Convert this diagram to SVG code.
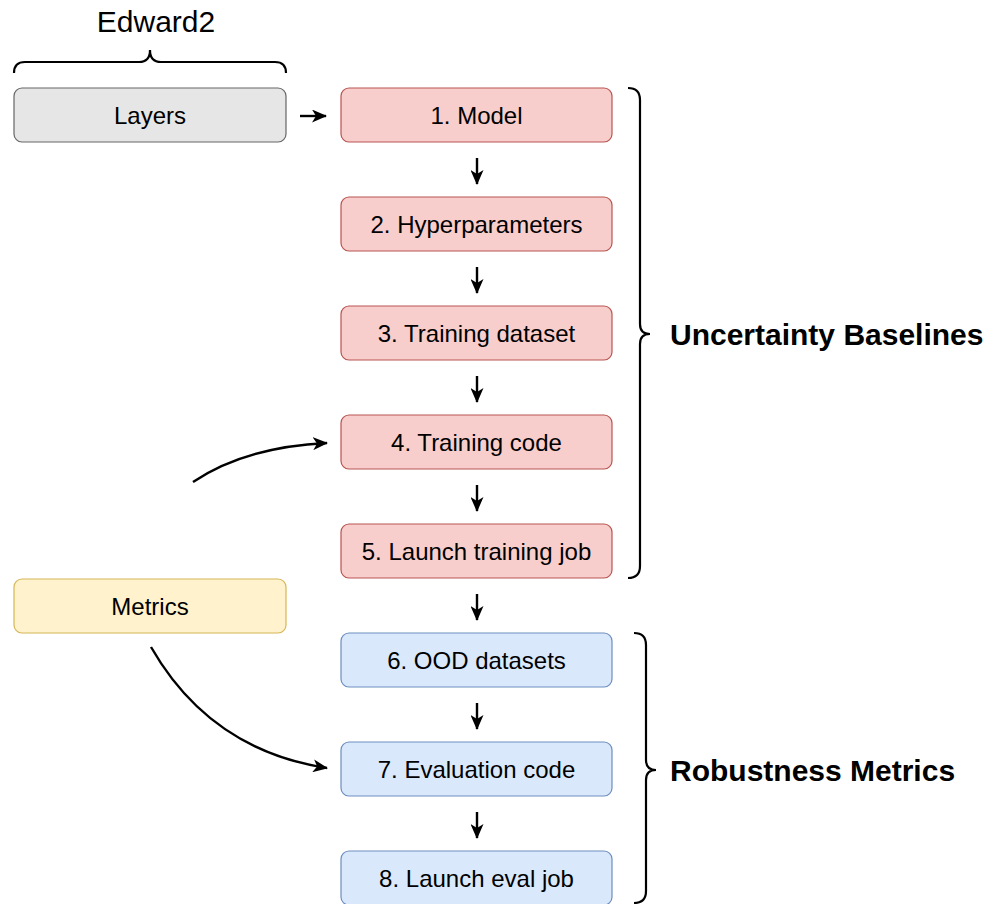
<svg xmlns="http://www.w3.org/2000/svg" width="986" height="904" viewBox="0 0 986 904">
  <style>
    .box { stroke-width: 1.2; }
    .gray { fill: #e6e6e6; stroke: #666666; }
    .red { fill: #f8cecc; stroke: #b85450; }
    .blue { fill: #dae8fc; stroke: #6c8ebf; }
    .yellow { fill: #fff2cc; stroke: #d6b656; }
    .label { font-family: "Liberation Sans", Arial, sans-serif; font-size: 24px; fill: #000; text-anchor: middle; dominant-baseline: central; }
    .title { font-family: "Liberation Sans", Arial, sans-serif; font-size: 30px; fill: #000; }
    .group { font-family: "Liberation Sans", Arial, sans-serif; font-size: 30px; font-weight: bold; fill: #000; }
    .edge { fill: none; stroke: #000; stroke-width: 2.4; }
    .brace { fill: none; stroke: #000; stroke-width: 2.2; }
  </style>
  <defs>
    <marker id="arrow" viewBox="0 0 15 13" refX="14" refY="6.5" markerWidth="15" markerHeight="13" orient="auto" markerUnits="userSpaceOnUse">
      <path d="M0,0 L15,6.5 L0,13 L4,6.5 Z" fill="#000"/>
    </marker>
  </defs>
  <rect width="986" height="904" fill="#ffffff"/>

  <!-- library label and brace -->
  <g id="edward2">
    <text class="title" x="156" y="32" text-anchor="middle">Edward2</text>
    <path class="brace" d="M14,73 Q14,62 25,62 L139,62 Q150,62 150,50 Q150,62 161,62 L275,62 Q286,62 286,73"/>
  </g>

  <g id="layers">
    <rect class="box gray" x="14" y="88" width="272" height="54" rx="8"/>
    <text class="label" x="150" y="115">Layers</text>
  </g>
  <g id="metrics">
    <rect class="box yellow" x="14" y="579" width="272" height="54" rx="8"/>
    <text class="label" x="150" y="606">Metrics</text>
  </g>

  <g id="model">
    <rect class="box red" x="341" y="88" width="271" height="54" rx="8"/>
    <text class="label" x="476.5" y="115">1. Model</text>
  </g>
  <g id="hyperparameters">
    <rect class="box red" x="341" y="197" width="271" height="54" rx="8"/>
    <text class="label" x="476.5" y="224">2. Hyperparameters</text>
  </g>
  <g id="training-dataset">
    <rect class="box red" x="341" y="306" width="271" height="54" rx="8"/>
    <text class="label" x="476.5" y="333">3. Training dataset</text>
  </g>
  <g id="training-code">
    <rect class="box red" x="341" y="415" width="271" height="54" rx="8"/>
    <text class="label" x="476.5" y="442">4. Training code</text>
  </g>
  <g id="launch-training">
    <rect class="box red" x="341" y="524" width="271" height="54" rx="8"/>
    <text class="label" x="476.5" y="551">5. Launch training job</text>
  </g>
  <g id="ood-datasets">
    <rect class="box blue" x="341" y="633" width="271" height="54" rx="8"/>
    <text class="label" x="476.5" y="660">6. OOD datasets</text>
  </g>
  <g id="evaluation-code">
    <rect class="box blue" x="341" y="742" width="271" height="54" rx="8"/>
    <text class="label" x="476.5" y="769">7. Evaluation code</text>
  </g>
  <g id="launch-eval">
    <rect class="box blue" x="341" y="851" width="271" height="54" rx="8"/>
    <text class="label" x="476.5" y="878">8. Launch eval job</text>
  </g>

  <!-- connectors -->
  <g id="connectors">
    <path class="edge" marker-end="url(#arrow)" d="M300,116 L326,116"/>
    <path class="edge" marker-end="url(#arrow)" d="M477,158 L477,184"/>
    <path class="edge" marker-end="url(#arrow)" d="M477,267 L477,293"/>
    <path class="edge" marker-end="url(#arrow)" d="M477,376 L477,402"/>
    <path class="edge" marker-end="url(#arrow)" d="M477,485 L477,511"/>
    <path class="edge" marker-end="url(#arrow)" d="M477,594 L477,620"/>
    <path class="edge" marker-end="url(#arrow)" d="M477,703 L477,729"/>
    <path class="edge" marker-end="url(#arrow)" d="M477,812 L477,838"/>
    <path class="edge" marker-end="url(#arrow)" d="M193,482 Q245,447 327,443"/>
    <path class="edge" marker-end="url(#arrow)" d="M151,647 Q210,750 327,768"/>
  </g>

  <!-- group braces -->
  <g id="uncertainty-baselines">
    <path class="brace" d="M628,88 Q640,88 640,100 L640,324 Q640,334 650,334 Q640,334 640,344 L640,566 Q640,578 628,578"/>
    <text class="group" x="670" y="345">Uncertainty Baselines</text>
  </g>
  <g id="robustness-metrics">
    <path class="brace" d="M634,633 Q646,633 646,645 L646,760 Q646,770 656,770 Q646,770 646,780 L646,891 Q646,903 634,903"/>
    <text class="group" x="670" y="781">Robustness Metrics</text>
  </g>
</svg>
